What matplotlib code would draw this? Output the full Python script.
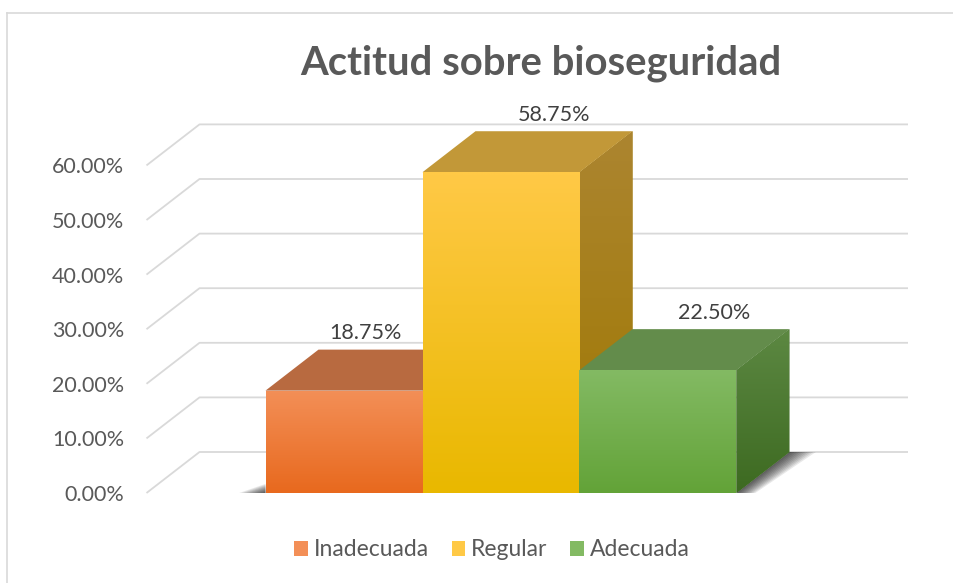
import numpy as np
import matplotlib
matplotlib.use('Agg')
import matplotlib.pyplot as plt
from matplotlib.patches import Polygon, Patch
from matplotlib.lines import Line2D
from matplotlib.colors import to_rgb

plt.rcParams['font.family'] = ['Lato', 'DejaVu Sans']

# data
categories = ['Inadecuada', 'Regular', 'Adecuada']
values = [18.75, 58.75, 22.50]
ticks = [0, 10, 20, 30, 40, 50, 60]

# colours: front top / front bottom, top face, side top / side bottom
front_cols = [('#F38F57', '#E8691E'), ('#FFC946', '#E9B800'), ('#83BA63', '#63A338')]
top_cols = ['#B86A40', '#C29838', '#638C4B']
side_cols = [('#B06A3A', '#A0501A'), ('#AC8530', '#9F7800'), ('#5C8842', '#3D6A21')]
text_col = '#595959'
grid_col = '#D9D9D9'

W, H = 954, 583
fig = plt.figure(figsize=(W / 100, H / 100), dpi=100)

# plot area in pixels (front floor left, back wall right, base, back top)
px_l, px_r, px_b, px_t = 146.5, 908, 493, 124
ax = fig.add_axes([px_l / W, 1 - px_b / H, (px_r - px_l) / W, (px_b - px_t) / H])
xpp = 1 / 157.0      # category units per pixel
ypp = 1 / 5.46       # percent per pixel
x0 = -0.5 - 119 * xpp
xr = x0 + (px_r - px_l) * xpp
dx, dy = 53 * xpp, 41 * ypp   # depth offset

for s in ['top', 'right', 'bottom', 'left']:
    ax.spines[s].set_visible(False)
ax.set_xticks([])
ax.set_yticks(ticks)
ax.set_yticklabels(['{:.2f}%'.format(t) for t in ticks])
ax.tick_params(axis='y', length=0, pad=16, labelsize=15.5, labelcolor=text_col)

# oblique gridlines (floor/side edge + back wall)
for t in ticks:
    ax.plot([x0, x0 + dx, xr], [t, t + dy, t + dy], color=grid_col, lw=1.3,
            zorder=1, clip_on=False, solid_capstyle='butt')


def gradient(c_top, c_bot, n=64):
    a = np.array(to_rgb(c_bot))
    b = np.array(to_rgb(c_top))
    f = np.linspace(0, 1, n)[:, None]
    return (a + (b - a) * f)[:, None, :]


# soft shadows on the floor
xs = np.arange(len(values))
for k in range(10):
    s = 0.012 * (k + 1)
    xe = xs[-1] + 0.5
    ax.add_patch(Polygon([(xe, 0), (xe + dx, dy), (xe + dx + s * 1.4, dy),
                          (xe + s * 1.0, 0)], closed=True, fc='black',
                         ec='none', alpha=0.09, zorder=1.5, clip_on=False))
    xb = xs[0] - 0.5
    ax.add_patch(Polygon([(xb, 0), (xb - s * 1.4, 0), (xb, s * 14)], closed=True,
                         fc='black', ec='none', alpha=0.09, zorder=1.5, clip_on=False))

# 3D bars
label_shift = [-0.2, 0.0, 0.02]
for i, (x, v) in enumerate(zip(xs, values)):
    z = 2 + i * 4
    # side face
    side = Polygon([(x + 0.5, 0), (x + 0.5 + dx, dy), (x + 0.5 + dx, v + dy), (x + 0.5, v)],
                   closed=True, fc=side_cols[i][1], ec='none', zorder=z)
    ax.add_patch(side)
    im = ax.imshow(gradient(*side_cols[i]), extent=(x + 0.5, x + 0.5 + dx, 0, v + dy),
                   origin='lower', aspect='auto', zorder=z + 0.1, interpolation='bilinear')
    im.set_clip_path(side)
    # top face
    ax.add_patch(Polygon([(x - 0.5, v), (x - 0.5 + dx, v + dy), (x + 0.5 + dx, v + dy), (x + 0.5, v)],
                         closed=True, fc=top_cols[i], ec='none', zorder=z + 1))
    # front face
    bar = ax.bar(x, v, width=1.0, color=front_cols[i][1], zorder=z + 2)[0]
    im = ax.imshow(gradient(*front_cols[i]), extent=(x - 0.5, x + 0.5, 0, v),
                   origin='lower', aspect='auto', zorder=z + 2.1, interpolation='bilinear')
    im.set_clip_path(bar)
    ax.text(x + dx + label_shift[i], v + dy + 3, '{:.2f}%'.format(v), ha='center', va='center',
            fontsize=15.5, color='#404040', zorder=20, clip_on=False)

ax.set_xlim(x0, xr)
ax.set_ylim(0, (px_b - px_t) * ypp)

fig.text(540.5 / W, 1 - 75 / H, 'Actitud sobre bioseguridad', ha='center', va='baseline',
         fontsize=28.8, fontweight='bold', color=text_col)

handles = [Patch(facecolor=front_cols[i][0], edgecolor='none') for i in range(3)]
fig.legend(handles, categories, loc='center', bbox_to_anchor=(492 / W, 1 - 550 / H),
           ncol=3, frameon=False, fontsize=16.5, labelcolor=text_col, handlelength=0.6,
           handleheight=0.6, handletextpad=0.25, columnspacing=1.0)

# chart border (cropped at right/bottom)
fig.add_artist(Line2D([7.5 / W, 7.5 / W], [0, 1 - 13 / H], color=grid_col, lw=1.2))
fig.add_artist(Line2D([7.5 / W, 1], [1 - 13 / H, 1 - 13 / H], color=grid_col, lw=1.2))

fig.savefig('out.png', dpi=100)
